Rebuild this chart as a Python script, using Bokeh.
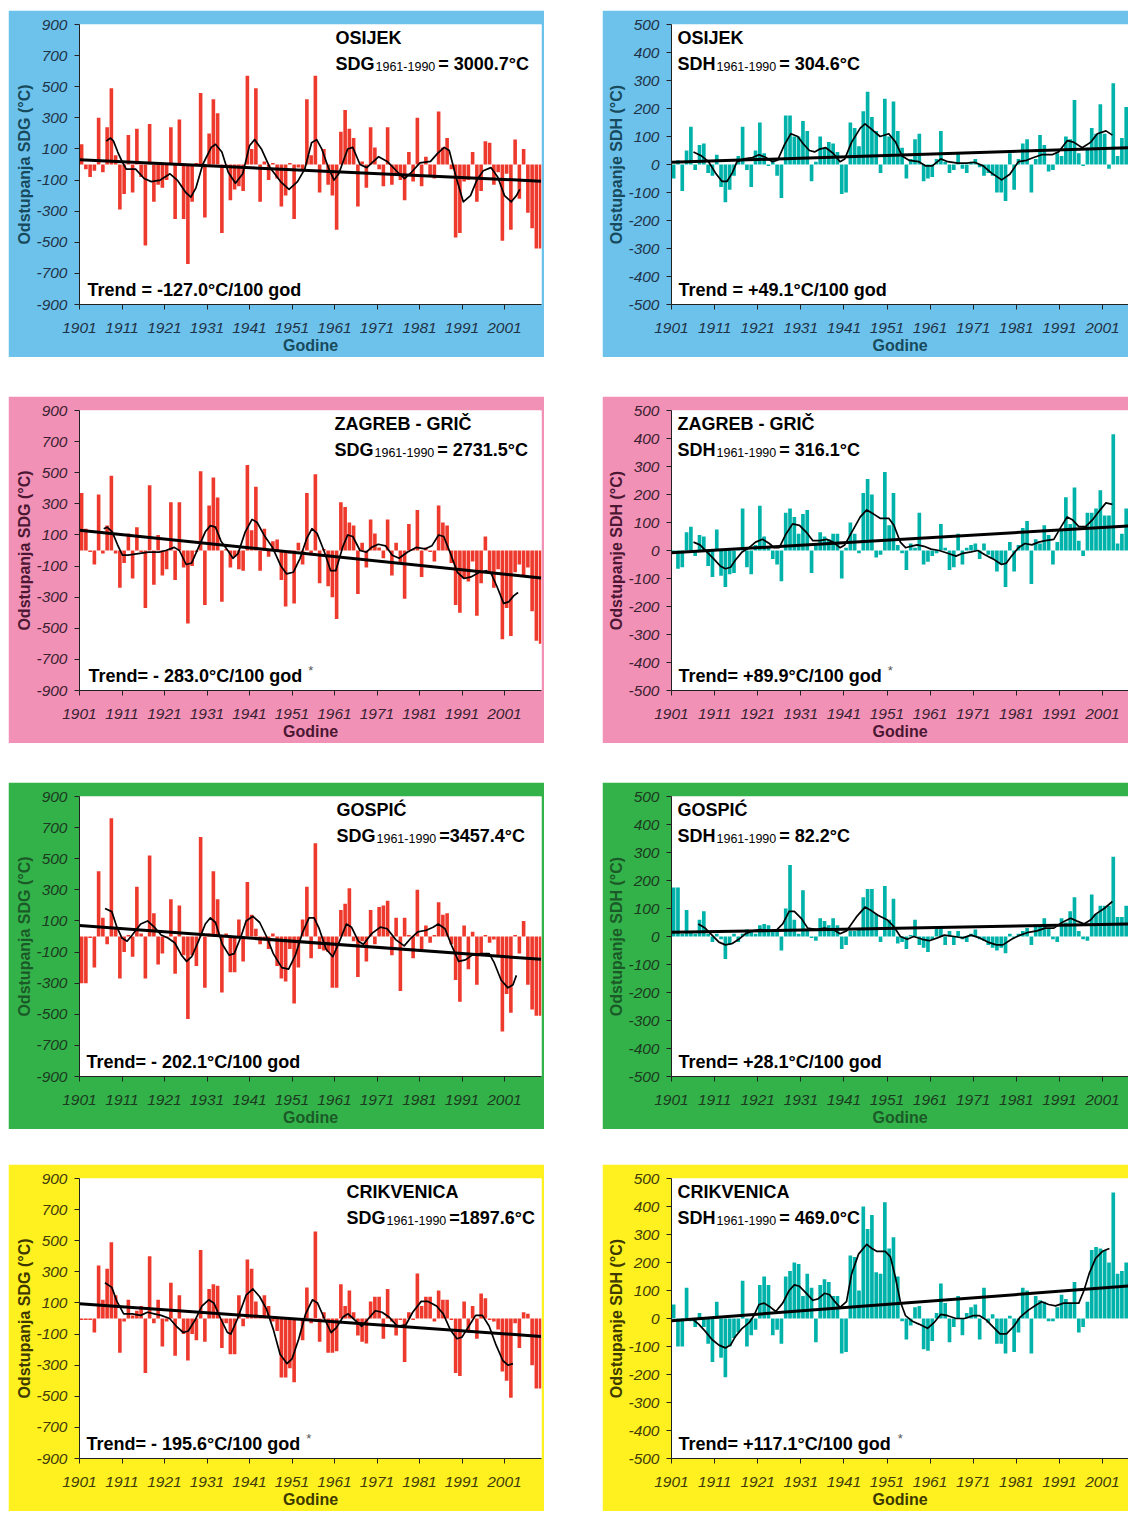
from bokeh.plotting import figure
from bokeh.models import Range1d, FixedTicker, Label, Spacer
from bokeh.layouts import column, row
from bokeh.embed import file_html
from bokeh.resources import INLINE

# ---------------- data ----------------
YEARS = list(range(1901, 2010))
X_TICKS = list(range(1901, 2002, 10))
X_TICK_LABELS = [str(t) for t in X_TICKS]
SDG_TICKS = [-900, -700, -500, -300, -100, 100, 300, 500, 700, 900]
SDG_TICK_LABELS = ["-900", "-700", "-500", "-300", "-100", "100", "300", "500", "700", "900"]
SDH_TICKS = [-500, -400, -300, -200, -100, 0, 100, 200, 300, 400, 500]
SDH_TICK_LABELS = ["-500", "-400", "-300", "-200", "-100", "0", "100", "200", "300", "400", "500"]

osijek_sdg = [130, -30, -80, -40, 300, -50, 240, 490, 60, -290,
              -190, 190, -180, 230, -80, -520, 260, -240, -130, -150,
              -100, 240, -350, 290, -350, -640, -240, 10, 460, -340,
              200, 420, 330, -440, -20, -230, -160, -140, -170, 570,
              100, 490, -240, 20, -100, 10, -90, -270, -200, 10,
              -350, -20, -30, 420, 60, 570, -180, 100, -130, -200,
              -420, 210, 350, 230, 170, -270, 20, -150, 240, 110,
              -30, -140, 240, -130, -60, -100, -230, 80, -110, 300,
              -140, 50, -80, -90, 340, 110, 170, -30, -470, -440,
              -110, -100, 80, -240, -170, 150, 140, -130, -50, -490,
              -60, -420, 160, -220, 100, -310, -410, -540, -540]
osijek_sdg_sm_x = [1907.3, 1908.3, 1909.0, 1910, 1911, 1912, 1914.2, 1916.2, 1917.9, 1920, 1922.3, 1924, 1926, 1927.2,
                   1928.4, 1930, 1932, 1933, 1934.5, 1936, 1937.7, 1939.4, 1941, 1942.2, 1943.8, 1945.8, 1948.3,
                   1950.3, 1952.3, 1954, 1955.6, 1956.8, 1958, 1959.7, 1960.9, 1962, 1964.1, 1965.3, 1967, 1968.6,
                   1971.4, 1973.4, 1975.9, 1977.5, 1979.1, 1981.1, 1983.6, 1985.2, 1986.8, 1988, 1989.6, 1991.3,
                   1993, 1994.5, 1996, 1997.8, 1999.4, 2001, 2002.6, 2003.8, 2004.6]
osijek_sdg_sm_y = [150, 170, 150, 80, 20, -30, -30, -90, -110, -100, -60, -100, -180, -210,
                   -150, 0, 110, 130, 80, -50, -120, -60, 120, 160, 100, -20, -110,
                   -160, -110, -30, 140, 160, 100, -30, -100, -60, 100, 110, 0, -20,
                   50, 20, -50, -90, -50, 10, 20, 70, 110, 90, -80, -240,
                   -200, -100, -40, -20, -80, -200, -240, -200, -160]
osijek_sdg_trend = [30, -107]

osijek_sdh = [-50, 15, -95, 50, 135, -20, 70, 75, -30, -40,
              35, -80, -135, -90, -40, 30, 135, -20, -80, 50,
              150, 40, -5, 20, -40, -120, 175, 175, 100, 100,
              155, 120, -60, 10, 100, 60, 80, 75, 45, -105,
              -100, 150, 130, 65, 190, 260, 170, 120, -30, 235,
              100, 225, 120, 60, -50, 20, 90, 110, -60, -50,
              -45, 20, 120, 10, -30, -20, 40, -15, -30, 10,
              20, -10, -40, -30, -40, -100, -100, -130, 40, -90,
              20, 75, 90, -100, 20, 105, 70, -25, -20, 40,
              30, 100, 90, 230, 40, -5, 60, 130, 110, 215,
              110, -15, 290, 30, 95, 205, 120, 60, 150]
osijek_sdh_sm_x = [1906.1, 1908, 1909.6, 1911.2, 1912.7, 1913.9, 1915.1, 1916.2, 1917.8, 1919.8, 1921.3, 1922.9,
                   1924.4, 1925.6, 1927.2, 1928.7, 1930.3, 1931.5, 1933, 1934.2, 1935.4, 1936.8, 1938.5, 1940.1,
                   1941.2, 1942.8, 1944.8, 1945.9, 1947.1, 1949.4, 1951.4, 1953, 1954.5, 1956.1, 1958.4, 1960,
                   1961.5, 1963.5, 1965.1, 1967.4, 1969.4, 1971.3, 1973.3, 1975.2, 1977.6, 1979.5, 1981.5,
                   1983.4, 1985, 1986.9, 1989.3, 1990.8, 1992.8, 1994.3, 1996.3, 1998.3, 1999.8, 2001.8, 2003.3]
osijek_sdh_sm_y = [45, 30, 10, -30, -60, -60, -30, 10, 20, 25, 35, 25,
                   10, 15, 70, 110, 100, 75, 50, 45, 55, 60, 40, 10,
                   20, 80, 130, 145, 130, 100, 110, 80, 30, 15, 10, -5,
                   -5, 20, 10, 5, 5, 8, -5, -30, -55, -35, 10,
                   15, 25, 35, 35, 45, 85, 80, 60, 80, 110, 120, 105]
osijek_sdh_trend = [8, 61]

zagreb_sdg = [370, 140, -10, -90, 360, -20, 160, 480, -20, -240,
              -80, 110, -180, 150, -10, -370, 420, -220, 100, -160,
              -120, 310, -190, 310, -110, -470, -100, -10, 510, -350,
              290, 470, 340, -330, 10, -110, -40, -120, -130, 550,
              130, 410, -130, 140, -40, 60, 70, -190, -360, -20,
              -340, 50, -90, 370, -30, 490, -210, 10, -230, -300,
              -440, 310, 280, 180, 160, -280, 50, -110, 200, 110,
              20, -50, 200, -160, 50, -80, -310, 170, 10, 260,
              -170, 20, -10, -70, 290, 180, 160, -80, -350, -400,
              -180, -200, -70, -420, -210, 90, -140, -240, -120, -570,
              -370, -550, -140, -90, -170, -110, -390, -580, -600]
zagreb_sdg_sm_x = [1906.7, 1907.5, 1908.7, 1909.9, 1911.1, 1912.4, 1914.8, 1917.2, 1919.7, 1921.3, 1923.3, 1924.5,
                   1926.1, 1927.4, 1929, 1930.6, 1931.8, 1933, 1934.3, 1935.9, 1937.1, 1938.3, 1940, 1941.6,
                   1942.8, 1944.4, 1946.4, 1948.4, 1949.7, 1951.3, 1952.9, 1954.5, 1955.7, 1956.9, 1958.5,
                   1960.1, 1961.3, 1962.9, 1964.1, 1965.3, 1967, 1968.5, 1969.7, 1971.3, 1973, 1974.6, 1976.2,
                   1978.2, 1980.2, 1982.3, 1983.9, 1985.5, 1986.7, 1988.3, 1989.9, 1991.5, 1993.1, 1995.1,
                   1996.7, 1997.9, 1999.2, 2000.8, 2002, 2003.2, 2004.2]
zagreb_sdg_sm_y = [140, 150, 120, 40, -30, -30, -20, -10, -10, 0, 20, 0,
                   -90, -80, 20, 120, 160, 150, 60, 0, -50, -20, 120, 200,
                   180, 100, 20, -100, -150, -140, -50, 80, 140, 110, 0,
                   -130, -130, 20, 100, 90, 0, -10, 20, 40, 30, -30, -50,
                   -10, 20, 10, 30, 100, 90, -20, -140, -180, -170, -140,
                   -130, -150, -230, -340, -330, -290, -270]
zagreb_sdg_trend = [130, -177]

zagreb_sdh = [-10, -65, -60, 65, 85, -20, 55, 50, -55, -95,
              75, -90, -130, -85, -80, 5, 150, -60, -85, 20,
              160, 50, 10, -30, -50, -110, 135, 150, 120, 60,
              130, 145, -80, 20, 65, 50, 40, 60, 60, -100,
              10, 100, 60, -10, 205, 255, 200, -25, -15, 280,
              90, 205, 20, -10, -70, 25, 10, 135, -50, -40,
              -20, -10, 95, 10, -70, -60, 60, -50, 10, 20,
              25, -30, 25, -15, -30, -75, -50, -130, 30, -75,
              20, 80, 105, -120, 40, 25, 90, 55, -50, 30,
              75, 190, 95, 225, 35, -20, 135, 135, 150, 215,
              125, 125, 415, 25, 60, 150, 215, 80, 130]
zagreb_sdh_sm_x = [1906.1, 1907.6, 1909.2, 1910.8, 1912.3, 1913.5, 1914.7, 1915.8, 1917.4, 1919, 1920.5, 1922.1,
                   1923.7, 1924.8, 1926, 1927.6, 1929.1, 1930.7, 1932.3, 1933.8, 1935.4, 1937, 1938.5, 1940.1,
                   1941.2, 1942.8, 1944.8, 1946.3, 1947.9, 1949.4, 1951.4, 1952.6, 1954.1, 1955.3, 1956.5, 1958,
                   1959.6, 1961.2, 1963.1, 1965.1, 1967, 1968.6, 1970.5, 1972.1, 1973.7, 1975.6, 1977.6, 1978.7,
                   1979.9, 1981.5, 1983, 1984.6, 1986.2, 1987.7, 1989.7, 1991.2, 1992.8, 1994, 1995.5, 1997.1,
                   1998.7, 2000.2, 2001.8, 2003.3]
zagreb_sdh_sm_y = [30, 20, -5, -30, -55, -65, -60, -35, -5, 10, 30, 40,
                   25, 10, 10, 60, 95, 90, 65, 35, 35, 40, 30, 10,
                   20, 65, 120, 145, 130, 115, 115, 90, 30, 10, 15, 20,
                   15, 5, 0, -10, -20, -10, -5, 0, -15, -30, -50, -45,
                   -20, 10, 25, 20, 30, 35, 40, 80, 120, 110, 85, 85,
                   110, 140, 170, 165]
zagreb_sdh_trend = [-8, 90]

gospic_sdg = [-300, -300, -10, -200, 420, 120, -50, 760, 50, -270,
              -100, 10, -130, 320, 20, -270, 520, 150, -180, -110,
              -10, 240, -240, 200, -120, -530, -120, -190, 640, -330,
              20, 420, 240, -360, 20, -230, -230, 110, -160, 350,
              140, 50, -50, -10, -80, 20, -190, -270, -290, -80,
              -430, -200, 110, 320, -140, 600, -80, -90, -100, -330,
              -330, 170, 210, 310, -30, -260, -30, -160, 170, -50,
              190, 200, 230, -120, 120, -350, 120, 10, -140, 300,
              -80, 70, -40, 10, 220, 140, 150, -50, -280, -420,
              70, -210, 30, -310, -120, 10, -40, -20, -120, -610,
              -370, -490, 10, -110, 100, -310, -470, -510, -510]
gospic_sdg_sm_x = [1907, 1908.6, 1909.8, 1911, 1912.2, 1913.4, 1915.4, 1917, 1918.6, 1920.2, 1921.8, 1923.4,
                   1925, 1926.2, 1927.4, 1929, 1930.6, 1931.8, 1933, 1934.6, 1936.2, 1937.4, 1939, 1940.2,
                   1941.8, 1943.4, 1945, 1946.6, 1948.6, 1950.2, 1951.8, 1953.4, 1955, 1956.2, 1957.4, 1959,
                   1960.6, 1962.2, 1963.8, 1965, 1966.6, 1967.8, 1969.8, 1971.8, 1973.4, 1975.4, 1977.4, 1979,
                   1980.6, 1982.6, 1984.2, 1985.4, 1987, 1988.6, 1990.2, 1991.8, 1993.4, 1995.4, 1997.4,
                   1998.6, 2000.2, 2001.8, 2003, 2003.8]
gospic_sdg_sm_y = [180, 160, 60, -10, -30, 10, 80, 100, 60, 10, -10, -40,
                   -120, -160, -130, -30, 80, 120, 90, -50, -120, -110, 0, 100,
                   130, 90, 0, -110, -200, -210, -120, 20, 120, 120, 50, -80,
                   -130, -30, 80, 60, -30, -50, 20, 60, 50, -20, -60, -10,
                   30, 40, 60, 80, 50, -60, -160, -150, -120, -110, -110,
                   -170, -280, -330, -310, -250]
gospic_sdg_trend = [70, -147]

gospic_sdh = [175, 175, 10, 95, 20, 10, 60, 90, 10, -20,
              10, -10, -80, -30, 10, -20, 10, 25, 20, 10,
              40, 45, 40, 20, 20, -50, 100, 255, 60, 10,
              165, 20, -5, -15, 65, 55, 40, 65, 40, -45,
              -30, 20, 20, 30, 140, 170, 170, 80, -20, 180,
              60, 135, -25, -20, -45, 5, 60, -30, -40, -55,
              -10, 30, 30, -30, 20, -30, 20, -10, -20, 10,
              25, -10, -15, -30, -40, -50, -40, -60, 10, -5,
              10, 20, 30, -30, 40, 40, 65, 30, -10, -20,
              65, 50, 90, 140, 20, -10, -15, 150, 80, 110,
              110, 110, 285, 70, 70, 110, 145, 60, 120]
gospic_sdh_sm_x = [1907.2, 1908.8, 1910.4, 1912, 1913.5, 1915.1, 1916.6, 1918.2, 1919.8, 1921.7, 1923.7, 1925.2,
                   1926.8, 1928.3, 1929.5, 1931.1, 1932.6, 1934.6, 1936.5, 1938.5, 1940.1, 1941.6, 1943.9,
                   1945.9, 1947.1, 1949, 1951, 1952.6, 1954.1, 1955.7, 1957.2, 1959.2, 1960.8, 1962.7, 1964.3,
                   1966.6, 1968.6, 1970.5, 1972.5, 1974.4, 1976.4, 1977.9, 1979.9, 1981.9, 1983.8, 1985.8,
                   1987.7, 1989.7, 1991.6, 1993.6, 1995.1, 1996.7, 1998.3, 1999.4, 2001.4, 2003.3]
gospic_sdh_sm_y = [45, 30, 5, -20, -30, -25, -10, 10, 20, 25, 20, 20,
                   45, 90, 90, 65, 30, 25, 30, 25, 10, 20, 70,
                   105, 95, 75, 60, 35, 0, -10, 0, -10, -15, -5, 5,
                   0, -5, 5, -5, -20, -30, -30, -10, 5, 15, 20,
                   30, 30, 50, 65, 55, 45, 60, 80, 100, 125]
gospic_sdh_trend = [15, 45]

crikvenica_sdg = [-10, -10, -10, -90, 340, 120, 320, 490, 150, -220,
                  -20, 120, 20, 50, 80, -350, 400, -30, 120, -180,
                  -20, 230, -240, 150, -100, -270, -100, -140, 440, -150,
                  190, 220, 210, -190, -30, -230, -230, 150, -50, 380,
                  320, 110, 10, 150, 80, -20, -80, -380, -380, -320,
                  -410, -10, -140, 200, -30, 560, -150, 40, -220, -220,
                  -210, 220, 80, 180, 40, -110, -150, -160, 110, 140,
                  140, -130, 190, -20, -110, -10, -280, 40, -10, 290,
                  80, 140, 140, -20, 180, 120, 120, -10, -350, -370,
                  110, -90, 80, -130, 160, 130, -10, -20, -70, -340,
                  -400, -510, -30, -190, 40, 30, -300, -450, -450]
crikvenica_sdg_sm_x = [1907, 1908.6, 1909.8, 1911.4, 1913.4, 1915.4, 1917, 1918.6, 1920.2, 1922.2, 1923.8, 1925.4,
                       1926.6, 1928.2, 1929.8, 1931.4, 1932.6, 1934.2, 1935.8, 1936.6, 1938.2, 1940.2, 1941.8,
                       1943.4, 1945, 1946.6, 1948.2, 1949.8, 1951, 1952.6, 1954.2, 1955.8, 1957, 1958.6, 1960.2,
                       1961.4, 1963, 1964.2, 1965.4, 1967.4, 1969, 1970.6, 1972.2, 1973.8, 1975.8, 1977.8, 1979.4,
                       1981.4, 1983, 1985, 1986.6, 1988.2, 1989.8, 1991, 1992.6, 1994.2, 1995.8, 1997.4, 1999,
                       2000.6, 2001.8, 2003]
crikvenica_sdg_sm_y = [230, 200, 110, 30, 30, 20, 40, 30, 20, 0, -50, -90,
                       -80, -10, 80, 120, 100, 0, -90, -100, 0, 150, 190,
                       140, 60, -70, -230, -290, -260, -130, 30, 120, 100, 0, -90,
                       -60, 10, 30, 0, -50, 0, 50, 40, 10, -50, -40, 40,
                       110, 110, 80, 30, -70, -130, -120, -50, 20, 20, -50, -170,
                       -270, -300, -290]
crikvenica_sdg_trend = [95, -115]

crikvenica_sdh = [50, -100, -100, 110, -10, -30, 20, -30, -90, -155,
                  60, -140, -210, -100, -70, -50, 135, -100, -60, -40,
                  120, 150, 120, -60, -40, -90, 150, 170, 200, 195,
                  80, 160, 110, -85, 120, 140, 130, 80, 80, -125,
                  -120, 225, 220, 100, 400, 320, 370, 165, 160, 415,
                  250, 290, 150, -10, -75, -25, 40, 45, -110, -115,
                  -80, 20, 125, 55, -85, -30, 80, -60, 20, 40,
                  50, -75, 110, -15, 15, -90, -90, -125, 10, -120,
                  -50, 110, 100, -125, 80, 65, 60, -10, -10, 40,
                  85, 70, 55, 130, -50, -30, 60, 245, 255, 250,
                  245, 200, 450, 160, 170, 200, 275, 150, 200]
crikvenica_sdh_sm_x = [1905.7, 1907.3, 1908.8, 1910.4, 1912, 1913.5, 1914.7, 1915.8, 1917.4, 1919, 1920.1, 1921.3,
                       1922.5, 1924, 1925.2, 1926.8, 1928.3, 1929.5, 1930.7, 1932.3, 1933.8, 1935, 1936.5, 1937.7,
                       1938.9, 1940.1, 1941.6, 1942.8, 1944.4, 1946.3, 1947.5, 1948.6, 1950.6, 1951.8, 1952.9,
                       1954.1, 1955.3, 1956.9, 1958.4, 1960.4, 1961.9, 1963.5, 1965.1, 1967, 1969, 1970.9, 1972.5,
                       1974, 1975.6, 1977.2, 1978.7, 1980.3, 1981.9, 1983.8, 1985.8, 1986.9, 1988.5, 1990.1, 1992,
                       1994, 1995.5, 1996.7, 1997.9, 1999.4, 2001, 2002.6]
crikvenica_sdh_sm_y = [0, -20, -45, -75, -95, -105, -95, -65, -35, -15, 10, 50,
                       55, 40, 25, 55, 100, 120, 115, 90, 65, 70, 90, 85,
                       60, 40, 60, 160, 230, 265, 250, 240, 240, 220, 150,
                       60, 10, -10, -20, -35, -15, 15, 10, 0, 0, 10, 10,
                       -5, -30, -55, -55, -30, 5, 30, 50, 60, 50, 45, 55,
                       55, 55, 100, 160, 215, 240, 250]
crikvenica_sdh_trend = [-8, 119]

# ---------------- styling ----------------
BAR_RED = "#EE3A2D"
BAR_TEAL = "#00B3AA"

# Arial/Liberation Sans Bold advance widths (per 1000 em)
BOLD_W = {' ': 278, '*': 389, '+': 584, '-': 333, '.': 278, '/': 278, '=': 584, '°': 400,
          'A': 722, 'B': 722, 'C': 722, 'D': 722, 'E': 667, 'G': 778, 'H': 722, 'I': 278, 'J': 556,
          'K': 722, 'N': 722, 'O': 778, 'P': 667, 'R': 722, 'S': 667, 'T': 611, 'V': 667, 'Z': 611,
          'Č': 722, 'Ć': 722, 'd': 611, 'e': 556, 'g': 611, 'n': 611, 'o': 611, 'r': 389}
REG_W = {'-': 333}


def text_w(s, size, table):
    return sum(table.get(c, 556) for c in s) / 1000.0 * size


def make_panel(kind, values, sm_x, sm_y, trend, station, norm, trend_text, star,
               frame_color, title_color, tick_color, title_px, trend_px):
    left = kind == "SDG"
    W = 536 if left else 526
    H = 347
    bl, br, bt, bb = (71, 3, 14, 53) if left else (69, 0, 14, 53)
    fw = W - bl - br
    fh = H - bt - bb
    pxyr = 4.25 if left else 4.31
    x0 = 1901.0
    x1 = x0 + fw / pxyr
    ylo, yhi = (-900, 900) if left else (-500, 500)
    p = figure(width=W, height=H, title=None, x_range=Range1d(x0, x1), y_range=Range1d(ylo, yhi),
               output_backend="svg", toolbar_location=None,
               min_border_left=bl, min_border_right=br, min_border_top=bt, min_border_bottom=bb,
               border_fill_color=frame_color, background_fill_color="white", outline_line_color=None)
    p.xgrid.visible = False
    p.ygrid.visible = False

    # axes
    ticks = SDG_TICKS if left else SDH_TICKS
    tlabels = SDG_TICK_LABELS if left else SDH_TICK_LABELS
    for ax in (p.xaxis[0], p.yaxis[0]):
        ax.axis_line_color = "#222222"
        ax.major_tick_line_color = "#222222"
        ax.minor_tick_line_color = None
        ax.major_tick_in = 0
        ax.major_tick_out = 5
        ax.major_label_text_font = "Liberation Sans"
        ax.major_label_text_font_style = "italic"
        ax.major_label_text_font_size = "15.5px"
        ax.major_label_text_color = tick_color
        ax.axis_label_text_font = "Liberation Sans"
        ax.axis_label_text_font_style = "bold"
        ax.axis_label_text_font_size = "16px"
        ax.axis_label_text_color = title_color
    p.xaxis.ticker = FixedTicker(ticks=X_TICKS)
    p.xaxis.major_label_overrides = dict(zip(X_TICKS, X_TICK_LABELS))
    p.xaxis.major_label_standoff = 13
    p.xaxis.axis_label = "Godine"
    p.xaxis.axis_label_standoff = 1
    p.yaxis.ticker = FixedTicker(ticks=ticks)
    p.yaxis.major_label_overrides = dict(zip(ticks, tlabels))
    p.yaxis.major_label_standoff = 7
    p.yaxis.axis_label = "Odstupanja SDG (°C)" if left else "Odstupanje SDH (°C)"
    p.yaxis.axis_label_standoff = 0

    # marks
    xs = [y + 0.5 for y in YEARS]
    p.vbar(x=xs, top=values, bottom=0, width=0.85, fill_color=BAR_RED if left else BAR_TEAL, line_color=None)
    p.line(x=[YEARS[0], YEARS[-1] + 0.6], y=trend, line_color="black", line_width=3)
    p.line(x=sm_x, y=sm_y, line_color="black", line_width=1.7, line_join="round")

    # annotations (positions are text centres, in px below the frame top)
    ux = (x1 - x0) / fw
    uy = (yhi - ylo) / fh
    tx = x0 + title_px * ux
    big = 18

    def lab(x, ypx, text, size, style="bold", color="black"):
        p.add_layout(Label(x=x, y=yhi - ypx * uy, text=text, text_font="Liberation Sans",
                           text_font_style=style, text_font_size=f"{size}px", text_color=color,
                           text_baseline="middle", text_align="left"))

    lab(tx, 13, station, big)
    lab(tx, 39, kind, big)
    sub = "1961-1990"
    sub_size = 12.5
    sx = tx + (text_w(kind, big, BOLD_W) + 1) * ux
    lab(sx, 42, sub, sub_size, style="normal")
    ex = sx + (text_w(sub, sub_size, REG_W) + 3) * ux
    lab(ex, 39, norm, big)
    trx = x0 + trend_px * ux
    lab(trx, 265, trend_text, big)
    if star:
        stx = trx + (text_w(trend_text, big, BOLD_W) + 5) * ux
        lab(stx, 260, "*", 13, style="normal", color="#555555")
    return p


BLUE, PINK, GREEN, YELLOW = "#6DC2EC", "#F291B6", "#34B24A", "#FFF11F"

p1 = make_panel("SDG", osijek_sdg, osijek_sdg_sm_x, osijek_sdg_sm_y, osijek_sdg_trend,
                "OSIJEK", "= 3000.7°C", "Trend = -127.0°C/100 god", False,
                BLUE, "#174A5C", "#1F3347", 256, 8)
p2 = make_panel("SDH", osijek_sdh, osijek_sdh_sm_x, osijek_sdh_sm_y, osijek_sdh_trend,
                "OSIJEK", "= 304.6°C", "Trend = +49.1°C/100  god", False,
                BLUE, "#174A5C", "#1F3347", 6, 7)
p3 = make_panel("SDG", zagreb_sdg, zagreb_sdg_sm_x, zagreb_sdg_sm_y, zagreb_sdg_trend,
                "ZAGREB - GRIČ", "= 2731.5°C", "Trend= - 283.0°C/100 god", True,
                PINK, "#4B1733", "#3A2131", 255, 9)
p4 = make_panel("SDH", zagreb_sdh, zagreb_sdh_sm_x, zagreb_sdh_sm_y, zagreb_sdh_trend,
                "ZAGREB - GRIČ", "= 316.1°C", "Trend= +89.9°C/100 god", True,
                PINK, "#4B1733", "#3A2131", 6, 7)
p5 = make_panel("SDG", gospic_sdg, gospic_sdg_sm_x, gospic_sdg_sm_y, gospic_sdg_trend,
                "GOSPIĆ", "=3457.4°C", "Trend= - 202.1°C/100 god", False,
                GREEN, "#1B5A28", "#1B3A1F", 257, 7)
p6 = make_panel("SDH", gospic_sdh, gospic_sdh_sm_x, gospic_sdh_sm_y, gospic_sdh_trend,
                "GOSPIĆ", "= 82.2°C", "Trend= +28.1°C/100 god", False,
                GREEN, "#1B5A28", "#1B3A1F", 6, 7)
p7 = make_panel("SDG", crikvenica_sdg, crikvenica_sdg_sm_x, crikvenica_sdg_sm_y, crikvenica_sdg_trend,
                "CRIKVENICA", "=1897.6°C", "Trend= - 195.6°C/100 god", True,
                YELLOW, "#3D3800", "#3F3B0A", 267, 7)
p8 = make_panel("SDH", crikvenica_sdh, crikvenica_sdh_sm_x, crikvenica_sdh_sm_y, crikvenica_sdh_trend,
                "CRIKVENICA", "= 469.0°C", "Trend= +117.1°C/100 god", True,
                YELLOW, "#3D3800", "#3F3B0A", 6, 7)


def panel_row(a, b):
    return row(Spacer(width=8), a, Spacer(width=58), b)


layout = column(
    Spacer(height=10),
    panel_row(p1, p2),
    Spacer(height=39),
    panel_row(p3, p4),
    Spacer(height=39),
    panel_row(p5, p6),
    Spacer(height=35),
    panel_row(p7, p8),
)

with open("out.html", "w") as f:
    f.write(file_html(layout, INLINE))
